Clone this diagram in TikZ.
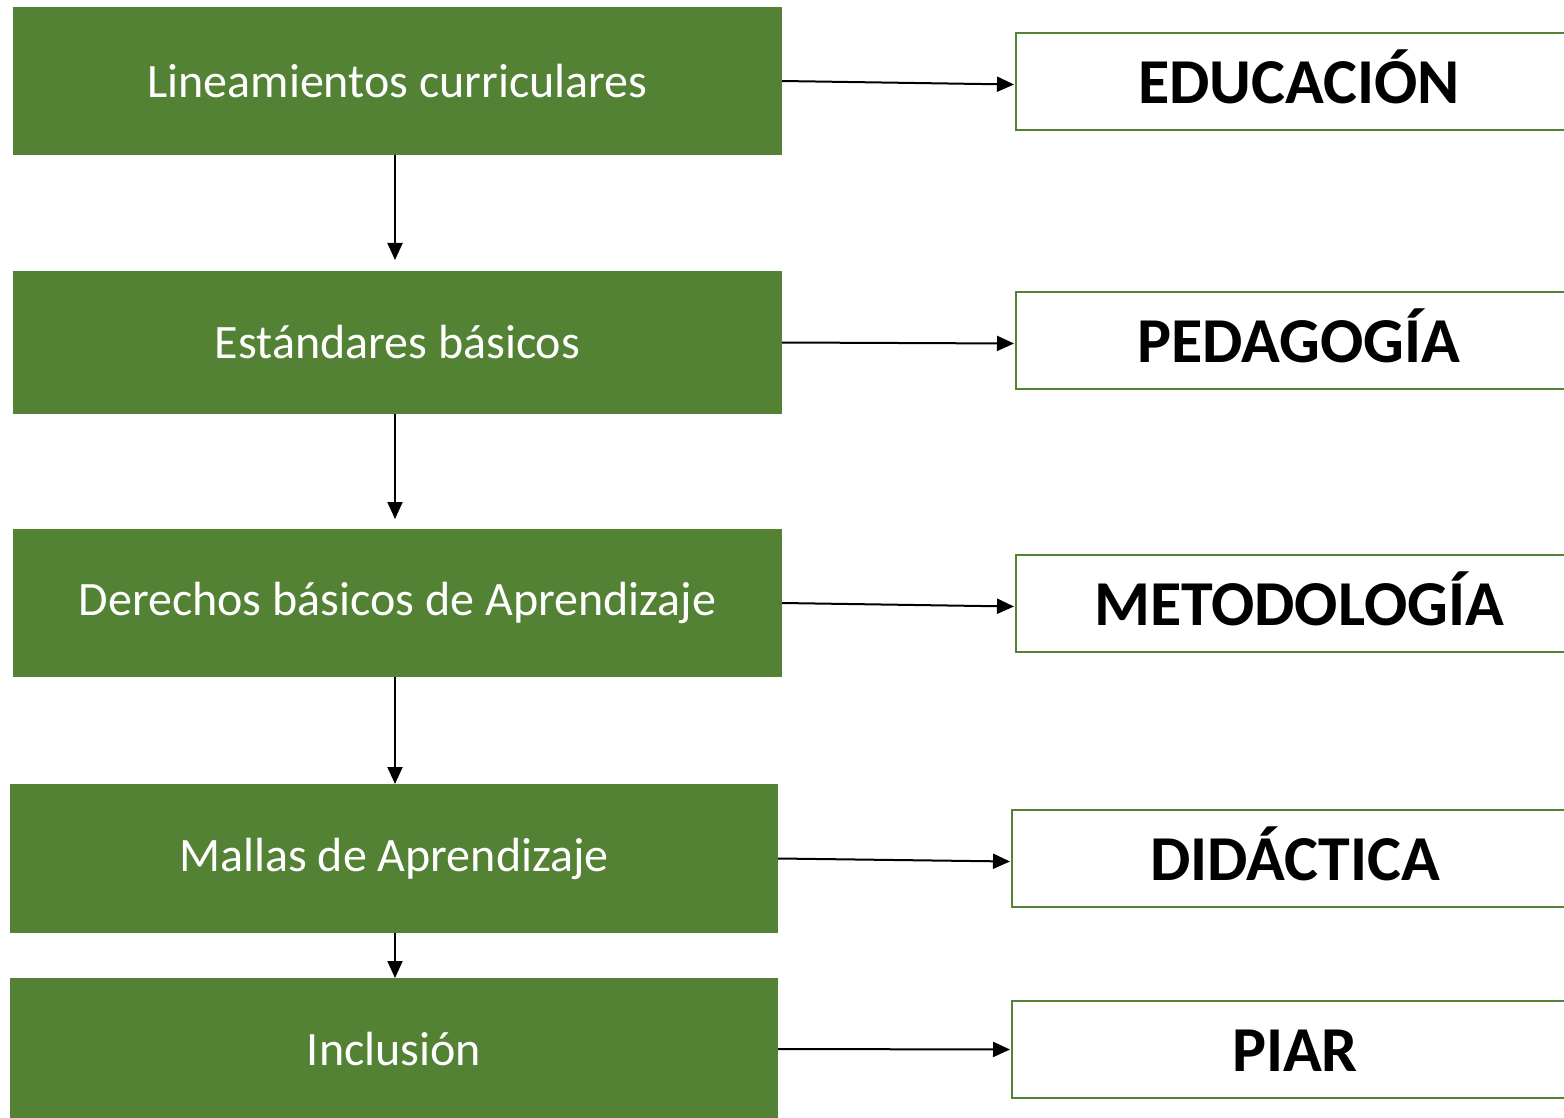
\documentclass[tikz,border=0pt]{standalone}
\usepackage{fontspec}
\setmainfont{Carlito}
\usetikzlibrary{arrows.meta,calc}
\definecolor{boxgreen}{HTML}{548235}
\begin{document}
\begin{tikzpicture}[x=1pt,y=-1pt,
  gbox/.style={fill=boxgreen,draw=none,inner sep=0pt,outer sep=0pt,anchor=north west,
    text=white,font=\fontsize{48}{56}\selectfont},
  wbox/.style={fill=white,draw=boxgreen,line width=1.6pt,inner sep=0pt,outer sep=0pt,anchor=north west,
    minimum width=566pt,minimum height=97pt,text height=44pt,text depth=0pt,
    font=\bfseries\fontsize{64}{76}\selectfont},
  conn/.style={line width=2pt,-{Triangle[length=17pt,width=15pt]}}]
\useasboundingbox (0,0) rectangle (1564,1118);
\fill[white] (0,0) rectangle (1564,1118);
\node[gbox,minimum width=769pt,minimum height=148pt] (g1) at (13,7) {Lineamientos curriculares};
\node[gbox,minimum width=769pt,minimum height=143pt] (g2) at (13,271) {Estándares básicos};
\node[gbox,minimum width=769pt,minimum height=148pt] (g3) at (13,529) {Derechos básicos de Aprendizaje};
\node[gbox,minimum width=768pt,minimum height=149pt] (g4) at (10,784) {Mallas de Aprendizaje};
\node[gbox,minimum width=768pt,minimum height=142pt] (g5) at (10,978) {Inclusión};
\node[wbox] (w1) at (1016,33) {EDUCACIÓN};
\node[wbox] (w2) at (1016,292) {PEDAGOGÍA};
\node[wbox] (w3) at (1016,555) {METODOLOGÍA};
\node[wbox] (w4) at (1012,810) {DIDÁCTICA};
\node[wbox] (w5) at (1012,1001) {PIAR};
\draw[conn] (g1.east) -- ($(w1.west)+(-2,3)$);
\draw[conn] (g2.east) -- ($(w2.west)+(-2,3)$);
\draw[conn] (g3.east) -- ($(w3.west)+(-2,3)$);
\draw[conn] (g4.east) -- ($(w4.west)+(-2,3)$);
\draw[conn] (g5.east) -- ($(w5.west)+(-2,0)$);
\draw[conn] (g1.south -| 395,0) -- ($(g2.north -| 395,0)+(0,-11)$);
\draw[conn] (g2.south -| 395,0) -- ($(g3.north -| 395,0)+(0,-10)$);
\draw[conn] (g3.south -| 395,0) -- (g4.north -| 395,0);
\draw[conn] (g4.south -| 395,0) -- (g5.north -| 395,0);
\end{tikzpicture}
\end{document}
